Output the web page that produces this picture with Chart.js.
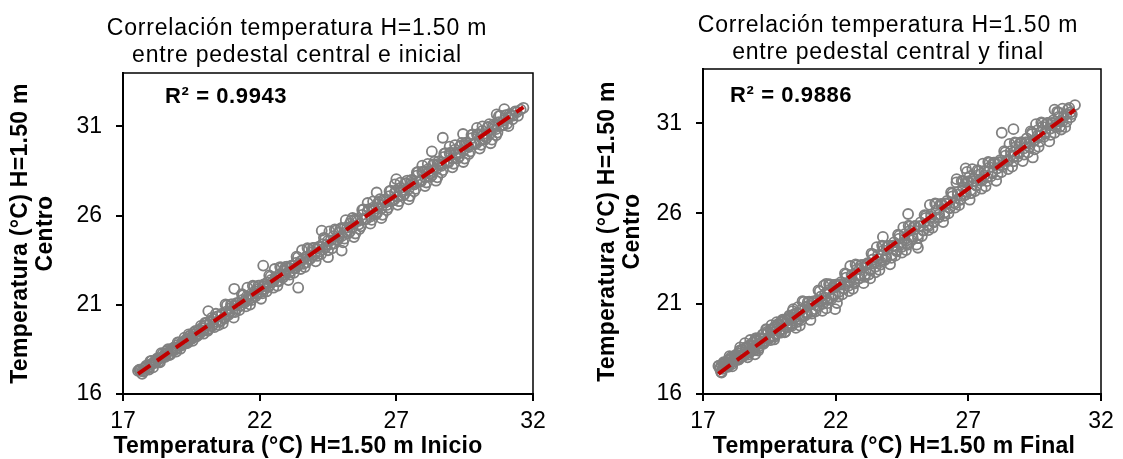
<!DOCTYPE html>
<html lang="es">
<head>
<meta charset="utf-8">
<title>Correlación temperatura H=1.50 m</title>
<script src="https://cdn.jsdelivr.net/npm/chart.js@4.4.1/dist/chart.umd.min.js"></script>
<style>
  html, body { margin: 0; padding: 0; background: #fff; }
  #contenedor { position: relative; width: 1123px; height: 459px; }
  canvas { position: absolute; top: 0; }
  #graficaInicio { left: 0; }
  #graficaFinal { left: 560px; }
</style>
</head>
<body>
<div id="contenedor">
  <canvas id="graficaInicio" width="560" height="459"></canvas>
  <canvas id="graficaFinal" width="563" height="459"></canvas>
</div>
<script>
// Temperaturas (°C) a H=1.50 m: pedestal inicial (x) contra pedestal central (y)
const inicioX = [
  17.55, 17.62, 17.70, 17.78, 17.85, 17.92, 18.00, 18.08, 18.15, 18.22, 18.30, 18.38, 18.45, 18.52, 18.60, 18.66, 18.74, 18.80, 18.88, 18.95,
  19.02, 19.10, 19.16, 19.24, 19.30, 19.38, 19.45, 19.52, 19.58, 19.66, 19.72, 19.80, 19.88, 19.95, 20.02, 20.10, 20.18, 20.25, 20.32, 20.40,
  20.48, 20.55, 20.62, 20.70, 20.78, 20.85, 20.92, 21.00, 21.08, 21.15, 21.22, 21.30, 21.38, 21.45, 21.52, 21.60, 21.68, 21.75, 21.82, 21.90,
  21.98, 22.05, 22.12, 22.20, 22.28, 22.35, 22.42, 22.50, 22.58, 22.65, 22.72, 22.80, 22.88, 22.95, 23.02, 23.10, 23.18, 23.25, 23.32, 23.40,
  23.50, 23.60, 23.70, 23.80, 23.90, 24.00, 24.10, 24.20, 24.30, 24.40, 24.50, 24.60, 24.70, 24.80, 24.90, 25.00, 25.10, 25.20, 25.30, 25.40,
  25.50, 25.62, 25.75, 25.85, 25.95, 26.05, 26.15, 26.25, 26.35, 26.45, 26.55, 26.65, 26.75, 26.85, 26.95, 27.05, 27.15, 27.25, 27.35, 27.45,
  27.55, 27.65, 27.75, 27.85, 27.95, 28.05, 28.15, 28.25, 28.35, 28.45, 28.55, 28.65, 28.75, 28.85, 28.95, 29.05, 29.15, 29.25, 29.35, 29.45,
  29.55, 29.65, 29.75, 29.85, 29.95, 30.05, 30.15, 30.25, 30.35, 30.45, 30.55, 30.65, 30.75, 30.85, 30.95, 31.10, 31.25, 31.40, 31.55, 31.65,
  22.13, 21.07, 23.41, 28.70, 28.30, 26.28, 20.12, 25.00, 24.27, 27.00, 29.44, 30.67, 24.50,
  17.6, 17.7, 17.8, 17.9, 18.0, 18.1, 18.2, 18.3, 18.4, 18.5, 18.6, 18.7, 18.8, 18.9, 19.0, 19.1, 19.2, 19.3, 19.4, 19.5,
  19.6, 19.7, 19.8, 19.9, 20.0, 20.1, 20.2, 20.3, 20.4, 20.5, 20.6, 20.7, 20.8, 20.9, 21.0, 21.1, 21.2, 21.3, 21.4, 21.5,
  21.6, 21.7, 21.8, 21.9, 22.0, 22.1, 22.2, 22.3, 22.4, 22.5, 22.6, 22.7, 22.8, 22.9, 23.0, 23.1, 23.2, 23.3, 23.4, 23.5,
  23.6, 23.7, 23.8, 23.9, 24.0, 24.1, 24.2, 24.3, 24.4, 24.5, 24.6, 24.7, 24.8, 24.9, 25.0, 25.1, 25.2, 25.3, 25.4, 25.5,
  25.6, 25.7, 25.8, 25.9, 26.0, 26.1, 26.2, 26.3, 26.4, 26.5, 26.6, 26.7, 26.8, 26.9, 27.0, 27.1, 27.2, 27.3, 27.4, 27.5,
  27.6, 27.7, 27.8, 27.9, 28.0, 28.1, 28.2, 28.3, 28.4, 28.5, 28.6, 28.7, 28.8, 28.9, 29.0, 29.1, 29.2, 29.3, 29.4, 29.5,
  29.6, 29.7, 29.8, 29.9, 30.0, 30.1, 30.2, 30.3, 30.4, 30.5, 30.6, 30.7, 30.8, 30.9, 31.0, 31.1, 31.2,
  17.65, 17.75, 17.85, 17.95, 18.05, 18.15, 18.25, 18.35, 18.45, 18.55, 18.65, 18.75, 18.85, 18.95, 19.05,
  19.15, 19.25, 19.35, 19.45, 19.55, 19.65, 19.75, 19.85, 19.95, 20.05, 20.15, 20.25, 20.35, 20.45, 20.55,
  20.65, 20.75, 20.85, 20.95, 21.05, 21.15, 21.25, 21.35, 21.45, 21.55, 21.65, 21.75, 21.85, 21.95, 22.05, 22.15, 22.25, 22.35, 22.45, 22.55,
  22.65, 22.75, 22.85, 22.95, 23.05, 23.15, 23.25, 23.35, 23.45, 23.55, 23.65, 23.75, 23.85, 23.95, 24.05, 24.15, 24.25, 24.35, 24.45, 24.55,
  24.65, 24.75, 24.85, 24.95, 25.05, 25.15, 25.25, 25.35, 25.45, 25.55, 25.65, 25.75, 25.85, 25.95, 26.05, 26.15, 26.25, 26.35, 26.45, 26.55,
  26.65, 26.75, 26.85, 26.95, 27.05, 27.15, 27.25, 27.35, 27.45, 27.55, 27.65, 27.75, 27.85, 27.95, 28.05, 28.15, 28.25, 28.35, 28.45, 28.55,
  28.65, 28.75, 28.85, 28.95, 29.05, 29.15, 29.25, 29.35, 29.45, 29.55, 29.65, 29.75, 29.85, 29.95, 30.05, 30.15, 30.25, 30.35, 30.45, 30.55,
  30.65, 30.75, 30.85, 30.95, 31.05, 31.15, 31.25, 31.35, 31.45
];
const inicioY = [
  17.30, 17.35, 17.28, 17.45, 17.52, 17.48, 17.66, 17.70, 17.82, 17.80, 17.98, 18.02, 18.05, 18.22, 18.30, 18.20, 18.45, 18.42, 18.60, 18.55,
  18.75, 18.70, 18.90, 18.82, 19.05, 18.95, 19.25, 19.10, 19.35, 19.22, 19.50, 19.38, 19.70, 19.55, 19.85, 19.62, 20.00, 19.80, 20.20, 20.05,
  20.35, 20.12, 20.50, 20.30, 20.62, 20.48, 20.80, 20.60, 20.95, 20.78, 21.10, 20.95, 21.28, 21.12, 21.45, 21.30, 21.60, 21.42, 21.75, 21.62,
  21.90, 21.72, 22.05, 21.90, 22.25, 22.05, 22.40, 22.30, 22.55, 22.35, 22.70, 22.62, 22.90, 22.70, 23.05, 22.85, 23.20, 23.05, 23.35, 23.20,
  23.45, 23.30, 23.70, 23.55, 23.95, 23.80, 24.15, 24.00, 24.40, 24.20, 24.60, 24.40, 24.85, 24.65, 25.05, 24.85, 25.30, 25.10, 25.55, 25.35,
  25.80, 25.50, 26.05, 25.80, 26.25, 25.95, 26.45, 26.15, 26.65, 26.40, 26.90, 26.60, 27.10, 26.85, 27.30, 27.05, 27.55, 27.35, 27.80, 27.50,
  28.00, 27.75, 28.25, 27.95, 28.45, 28.15, 28.60, 28.35, 28.85, 28.60, 29.05, 28.80, 29.30, 29.00, 29.50, 29.20, 29.70, 29.45, 29.90, 29.65,
  30.10, 29.85, 30.35, 30.05, 30.55, 30.20, 30.75, 30.45, 30.95, 30.65, 31.10, 30.85, 31.25, 31.05, 31.35, 31.50, 31.60, 31.80, 31.95, 32.05,
  23.20, 21.90, 21.96, 30.37, 29.60, 27.30, 20.65, 24.04, 25.16, 28.05, 30.58, 31.68, 23.67,
  17.36, 17.13, 17.48, 17.43, 17.84, 17.49, 17.87, 17.79, 18.29, 18.09, 18.41, 18.18, 18.53, 18.48, 18.89, 18.54, 18.92, 18.84, 19.34, 19.14,
  19.46, 19.23, 19.58, 19.53, 19.98, 19.54, 20.04, 19.90, 20.50, 19.86, 20.41, 20.22, 20.97, 20.58, 21.03, 20.59, 21.09, 20.95, 21.55, 20.91,
  21.46, 21.27, 22.02, 21.63, 22.08, 21.64, 22.14, 22.00, 22.60, 21.96, 22.51, 22.32, 23.08, 22.68, 23.14, 22.69, 23.20, 23.05, 23.66, 23.01,
  23.57, 23.37, 24.13, 23.73, 24.19, 23.74, 24.25, 24.10, 24.71, 24.06, 24.62, 24.42, 25.18, 24.78, 25.32, 24.71, 25.33, 25.11, 25.87, 25.00,
  25.69, 25.40, 26.35, 25.81, 26.37, 25.76, 26.38, 26.16, 26.92, 26.05, 26.74, 26.45, 27.40, 26.86, 27.42, 26.81, 27.43, 27.21, 27.97, 27.10,
  27.80, 27.50, 28.46, 27.91, 28.48, 27.86, 28.49, 28.26, 29.03, 28.15, 28.85, 28.55, 29.51, 28.96, 29.53, 28.91, 29.54, 29.31, 30.08, 29.20,
  29.90, 29.60, 30.56, 30.01, 30.58, 29.97, 30.59, 30.37, 31.13, 30.26, 30.95, 30.66, 31.61, 31.07, 31.63, 31.02, 31.64,
  17.31, 17.26, 17.59, 17.37, 17.86, 17.73, 17.99, 17.77, 18.25, 18.08, 18.51, 18.24, 18.60, 18.38, 18.89,
  18.74, 19.16, 18.85, 19.27, 18.98, 19.54, 19.32, 19.82, 19.38, 19.98, 19.67, 20.27, 19.75, 20.35, 20.06,
  19.96, 21.02, 20.42, 21.03, 20.28, 21.09, 20.70, 21.60, 21.21, 21.96, 21.02, 22.07, 21.48, 22.08, 21.34, 22.14, 21.75, 22.65, 22.26, 23.01,
  22.07, 23.12, 22.53, 23.13, 22.39, 23.19, 22.80, 23.70, 23.31, 24.06, 23.12, 24.18, 23.58, 24.19, 23.44, 24.25, 23.85, 24.76, 24.36, 25.12,
  24.17, 25.23, 24.63, 25.24, 24.50, 25.75, 25.01, 25.72, 24.80, 25.75, 25.25, 26.32, 25.82, 26.71, 25.55, 26.80, 26.06, 26.77, 25.86, 26.80,
  26.31, 27.37, 26.88, 27.76, 26.61, 27.85, 27.12, 27.82, 26.91, 27.85, 27.36, 28.42, 27.93, 28.81, 27.66, 28.90, 28.17, 28.87, 27.96, 28.90,
  28.41, 29.48, 28.98, 29.87, 28.71, 29.96, 29.22, 29.93, 29.01, 29.96, 29.46, 30.53, 30.03, 30.92, 29.76, 31.01, 30.27, 30.98, 30.06, 31.01,
  30.51, 31.58, 31.08, 31.97, 31.15, 31.70, 31.40, 31.85, 31.60
];

// Pedestal final (x) contra pedestal central (y)
const finalX = [
  17.58, 17.64, 17.70, 17.76, 17.82, 17.88, 17.95, 18.02, 18.08, 18.15, 18.22, 18.28, 18.35, 18.42, 18.48, 18.55, 18.62, 18.68, 18.75, 18.82,
  18.88, 18.95, 19.02, 19.08, 19.15, 19.22, 19.28, 19.35, 19.42, 19.48, 19.55, 19.62, 19.68, 19.75, 19.82, 19.88, 19.95, 20.02, 20.10, 20.18,
  20.25, 20.32, 20.40, 20.48, 20.55, 20.62, 20.70, 20.78, 20.85, 20.92, 21.00, 21.08, 21.15, 21.22, 21.30, 21.38, 21.45, 21.52, 21.60, 21.68,
  21.75, 21.82, 21.90, 21.98, 22.05, 22.12, 22.20, 22.30, 22.40, 22.50, 22.60, 22.70, 22.80, 22.90, 23.00, 23.10, 23.20, 23.30, 23.40, 23.50,
  23.60, 23.70, 23.80, 23.90, 24.00, 24.10, 24.20, 24.30, 24.40, 24.50, 24.60, 24.70, 24.80, 24.90, 25.00, 25.10, 25.20, 25.30, 25.40, 25.50,
  25.60, 25.70, 25.80, 25.90, 26.00, 26.10, 26.20, 26.30, 26.40, 26.50, 26.60, 26.70, 26.80, 26.90, 27.00, 27.10, 27.20, 27.30, 27.40, 27.50,
  27.60, 27.70, 27.80, 27.90, 28.00, 28.10, 28.20, 28.30, 28.40, 28.50, 28.60, 28.70, 28.80, 28.90, 29.00, 29.10, 29.20, 29.30, 29.40, 29.50,
  29.60, 29.70, 29.80, 29.90, 30.00, 30.10, 30.20, 30.30, 30.40, 30.55, 30.70, 30.85, 31.02,
  28.26, 28.70, 29.43, 24.73, 25.10, 21.64, 21.98, 23.30, 23.78, 18.96, 26.56, 26.90, 26.95, 27.15, 27.05, 30.25, 30.45,
  17.6, 17.7, 17.8, 17.9, 18.0, 18.1, 18.2, 18.3, 18.4, 18.5, 18.6, 18.7, 18.8, 18.9, 19.0, 19.1, 19.2, 19.3, 19.4, 19.5,
  19.6, 19.7, 19.8, 19.9, 20.0, 20.1, 20.2, 20.3, 20.4, 20.5, 20.6, 20.7, 20.8, 20.9, 21.0, 21.1, 21.2, 21.3, 21.4, 21.5,
  21.6, 21.7, 21.8, 21.9, 22.0, 22.1, 22.2, 22.3, 22.4, 22.5, 22.6, 22.7, 22.8, 22.9, 23.0, 23.1, 23.2, 23.3, 23.4, 23.5,
  23.6, 23.7, 23.8, 23.9, 24.0, 24.1, 24.2, 24.3, 24.4, 24.5, 24.6, 24.7, 24.8, 24.9, 25.0, 25.1, 25.2, 25.3, 25.4, 25.5,
  25.6, 25.7, 25.8, 25.9, 26.0, 26.1, 26.2, 26.3, 26.4, 26.5, 26.6, 26.7, 26.8, 26.9, 27.0, 27.1, 27.2, 27.3, 27.4, 27.5,
  27.6, 27.7, 27.8, 27.9, 28.0, 28.1, 28.2, 28.3, 28.4, 28.5, 28.6, 28.7, 28.8, 28.9, 29.0, 29.1, 29.2, 29.3, 29.4, 29.5,
  29.6, 29.7, 29.8, 29.9, 30.0, 30.1, 30.2, 30.3, 30.4, 30.5, 30.6, 30.7, 30.8, 30.9,
  17.65, 17.75, 17.85, 17.95, 18.05, 18.15, 18.25, 18.35, 18.45, 18.55, 18.65, 18.75, 18.85, 18.95, 19.05,
  19.15, 19.25, 19.35, 19.45, 19.55, 19.65, 19.75, 19.85, 19.95, 20.05, 20.15, 20.25, 20.35, 20.45, 20.55,
  20.65, 20.75, 20.85, 20.95, 21.05, 21.15, 21.25, 21.35, 21.45, 21.55, 21.65, 21.75, 21.85, 21.95, 22.05, 22.15, 22.25, 22.35, 22.45, 22.55,
  22.65, 22.75, 22.85, 22.95, 23.05, 23.15, 23.25, 23.35, 23.45, 23.55, 23.65, 23.75, 23.85, 23.95, 24.05, 24.15, 24.25, 24.35, 24.45, 24.55,
  24.65, 24.75, 24.85, 24.95, 25.05, 25.15, 25.25, 25.35, 25.45, 25.55, 25.65, 25.75, 25.85, 25.95, 26.05, 26.15, 26.25, 26.35, 26.45, 26.55,
  26.65, 26.75, 26.85, 26.95, 27.05, 27.15, 27.25, 27.35, 27.45, 27.55, 27.65, 27.75, 27.85, 27.95, 28.05, 28.15, 28.25, 28.35, 28.45, 28.55,
  28.65, 28.75, 28.85, 28.95, 29.05, 29.15, 29.25, 29.35, 29.45, 29.55, 29.65, 29.75, 29.85, 29.95, 30.05, 30.15, 30.25, 30.35, 30.45, 30.55,
  30.65, 30.75, 30.85,
  17.68, 17.78, 17.88, 17.98, 18.08, 18.18, 18.28, 18.38, 18.48, 18.58, 18.68, 18.78, 18.88, 18.98, 19.08,
  19.18, 19.28, 19.38, 19.48, 19.58, 19.68, 19.78, 19.88, 19.98, 20.08, 20.18, 20.28, 20.38, 20.48, 20.58
];
const finalY = [
  17.55, 17.40, 17.62, 17.50, 17.72, 17.58, 17.85, 17.70, 17.98, 17.80, 18.10, 17.92, 18.25, 18.05, 18.40, 18.15, 18.55, 18.30, 18.70, 18.42,
  18.85, 18.55, 19.00, 18.62, 19.10, 18.80, 19.30, 18.95, 19.45, 19.05, 19.55, 19.20, 19.70, 19.30, 19.85, 19.45, 20.00, 19.60, 20.10, 19.75,
  20.25, 19.90, 20.40, 20.05, 20.50, 20.15, 20.65, 20.30, 20.80, 20.45, 20.90, 20.55, 21.05, 20.70, 21.20, 20.90, 21.40, 21.00, 21.55, 21.20,
  21.75, 21.35, 21.90, 21.50, 22.05, 21.65, 22.20, 21.85, 22.45, 22.00, 22.60, 22.20, 22.90, 22.40, 23.00, 22.60, 23.25, 22.85, 23.45, 23.05,
  23.70, 23.30, 23.95, 23.50, 24.20, 23.70, 24.40, 23.90, 24.60, 24.15, 24.85, 24.35, 25.05, 24.60, 25.30, 24.80, 25.50, 25.05, 25.75, 25.30,
  25.95, 25.55, 26.20, 25.80, 26.45, 26.05, 26.70, 26.30, 26.95, 26.55, 27.20, 26.80, 27.45, 27.05, 27.75, 27.30, 27.95, 27.55, 28.15, 27.80,
  28.35, 28.00, 28.55, 28.25, 28.75, 28.50, 28.95, 28.70, 29.20, 28.90, 29.45, 29.15, 29.70, 29.40, 29.95, 29.60, 30.15, 29.85, 30.40, 30.05,
  30.60, 30.30, 30.80, 30.50, 31.00, 30.70, 31.15, 30.90, 31.35, 31.10, 31.50, 31.60, 32.00,
  30.47, 30.67, 29.10, 25.97, 24.10, 22.10, 20.70, 22.40, 24.70, 18.20, 27.90, 28.50, 28.30, 28.45, 28.05, 31.75, 30.80,
  17.56, 17.18, 17.65, 17.53, 18.10, 17.53, 18.05, 17.89, 18.58, 18.14, 18.56, 18.18, 18.65, 18.53, 19.10, 18.53, 19.04, 18.88, 19.57, 19.13,
  19.55, 19.17, 19.64, 19.52, 20.12, 19.46, 20.13, 19.89, 20.70, 19.66, 20.40, 20.09, 21.11, 20.51, 21.11, 20.45, 21.12, 20.88, 21.69, 20.60,
  21.34, 21.03, 22.05, 21.46, 22.06, 21.40, 22.07, 21.83, 22.64, 21.70, 22.44, 22.12, 23.14, 22.55, 23.15, 22.49, 23.16, 22.92, 23.73, 22.74,
  23.48, 23.17, 24.19, 23.60, 24.20, 23.54, 24.20, 23.96, 24.77, 23.83, 24.57, 24.26, 25.28, 24.69, 25.29, 24.63, 25.30, 25.06, 25.87, 25.08,
  25.82, 25.51, 26.53, 25.93, 26.53, 25.87, 26.54, 26.30, 27.11, 26.32, 27.06, 26.75, 27.77, 27.18, 27.78, 27.12, 27.79, 27.55, 28.36, 27.37,
  28.10, 27.79, 28.81, 28.22, 28.82, 28.16, 28.83, 28.59, 29.40, 28.46, 29.20, 28.89, 29.91, 29.32, 29.92, 29.26, 29.93, 29.68, 30.49, 29.55,
  30.29, 29.98, 31.00, 30.41, 31.01, 30.35, 31.02, 30.78, 31.59, 30.65, 31.39, 31.08, 31.85, 31.50,
  17.45, 17.39, 17.77, 17.51, 18.04, 17.90, 18.18, 17.91, 18.45, 18.13, 18.61, 18.30, 18.71, 18.42, 19.01,
  18.82, 19.30, 18.91, 19.39, 18.98, 19.59, 19.32, 19.89, 19.40, 20.04, 19.68, 20.34, 19.77, 20.41, 19.99,
  19.79, 21.14, 20.34, 21.10, 20.10, 21.13, 20.58, 21.74, 21.19, 22.00, 20.74, 22.09, 21.28, 22.04, 21.04, 22.07, 21.52, 22.68, 22.13, 23.09,
  21.83, 23.18, 22.38, 23.14, 22.14, 23.17, 22.62, 23.78, 23.22, 24.13, 22.87, 24.22, 23.42, 24.18, 23.18, 24.21, 23.66, 24.82, 24.27, 25.23,
  23.97, 25.32, 24.52, 25.28, 24.27, 25.30, 24.75, 25.91, 25.36, 26.47, 25.21, 26.56, 25.76, 26.52, 25.52, 26.55, 26.00, 27.16, 26.61, 27.72,
  26.46, 27.80, 27.00, 27.76, 26.76, 27.79, 27.24, 28.40, 27.85, 28.76, 27.50, 28.85, 28.05, 28.81, 27.81, 28.84, 28.29, 29.45, 28.90, 29.85,
  28.59, 29.94, 29.14, 29.90, 28.90, 29.93, 29.38, 30.54, 29.99, 30.95, 29.69, 31.04, 30.24, 30.99, 29.99, 31.02, 30.47, 31.63, 31.08, 31.80,
  30.78, 31.75, 31.33,
  17.23, 17.76, 17.57, 17.91, 17.65, 18.03, 17.94, 18.40, 18.18, 18.82, 18.03, 18.99, 18.50, 19.05, 18.41,
  19.07, 18.78, 19.59, 19.15, 19.81, 19.02, 19.98, 19.49, 20.05, 19.41, 20.07, 19.78, 20.59, 20.25, 20.81
];

const xTicks = [17, 22, 27, 32];
const yTicks = [16, 21, 26, 31];

const tituloInicio = ["Correlación temperatura H=1.50 m", "entre pedestal central e inicial"];
const tituloFinal = ["Correlación temperatura H=1.50 m", "entre pedestal central y final"];
const ejeYTexto = ["Temperatura (°C) H=1.50 m", "Centro"];
const ejeXInicio = "Temperatura (°C) H=1.50 m Inicio";
const ejeXFinal = "Temperatura (°C) H=1.50 m Final";
const r2Inicio = "R² = 0.9943";
const r2Final = "R² = 0.9886";

const FUENTE = "'Liberation Sans', Arial, sans-serif";

// Recta de mínimos cuadrados entre el menor y el mayor x
function tendencia(xs, ys) {
  const n = xs.length;
  let sx = 0, sy = 0, sxx = 0, sxy = 0;
  for (let i = 0; i < n; i++) {
    sx += xs[i]; sy += ys[i];
    sxx += xs[i] * xs[i]; sxy += xs[i] * ys[i];
  }
  const m = (n * sxy - sx * sy) / (n * sxx - sx * sx);
  const b = (sy - m * sx) / n;
  const x0 = Math.min(...xs);
  const x1 = Math.max(...xs);
  return [{ x: x0, y: m * x0 + b }, { x: x1, y: m * x1 + b }];
}

// Títulos de dos líneas con espaciado entre letras
const tituloEspaciado = {
  id: "tituloEspaciado",
  afterDraw(chart, args, o) {
    const ctx = chart.ctx;
    ctx.save();
    ctx.font = `23px ${FUENTE}`;
    ctx.letterSpacing = "0.8px";
    ctx.fillStyle = "#000";
    ctx.textAlign = "center";
    ctx.textBaseline = "alphabetic";
    o.lineas.forEach((t, i) => ctx.fillText(t, o.x, o.base + i * o.paso));
    ctx.restore();
  },
};

// Marco superior y derecho del área de trazado
const marco = {
  id: "marco",
  beforeDatasetsDraw(chart) {
    const { ctx, chartArea: a } = chart;
    ctx.save();
    ctx.strokeStyle = "#000";
    ctx.lineWidth = 1.5;
    ctx.beginPath();
    ctx.moveTo(a.left, a.top);
    ctx.lineTo(a.right, a.top);
    ctx.lineTo(a.right, a.bottom);
    ctx.stroke();
    ctx.restore();
  },
};

// Texto del coeficiente R²
const etiquetaR2 = {
  id: "etiquetaR2",
  afterDraw(chart, args, o) {
    const { ctx, chartArea: a } = chart;
    ctx.save();
    ctx.font = `bold 22px ${FUENTE}`;
    ctx.letterSpacing = "0.6px";
    ctx.fillStyle = "#000";
    ctx.textAlign = "left";
    ctx.textBaseline = "middle";
    ctx.fillText(o.texto, a.left + o.dx, a.top + o.dy);
    ctx.restore();
  },
};

// Títulos de ejes con algo de espaciado; el del eje x se puede desplazar
const ejesEspaciados = {
  id: "ejesEspaciados",
  beforeDraw(chart, args, o) {
    Object.values(chart.scales).forEach((scale) => {
      if (scale._espaciado) return;
      const original = scale.drawTitle.bind(scale);
      const dx = scale.axis === "x" ? o.dx || 0 : 0;
      scale.drawTitle = function () {
        chart.ctx.save();
        chart.ctx.letterSpacing = "0.3px";
        chart.ctx.translate(dx, 0);
        original();
        chart.ctx.restore();
      };
      scale._espaciado = true;
    });
  },
};

function crearGrafica(id, xs, ys, c) {
  const puntos = xs.map((x, i) => ({ x: x, y: ys[i] }));
  const ctx = document.getElementById(id).getContext("2d");
  const fuenteEje = { family: FUENTE, size: 23, weight: "bold", lineHeight: 25 / 23 };
  return new Chart(ctx, {
    type: "scatter",
    data: {
      datasets: [
        {
          type: "line",
          data: tendencia(xs, ys),
          borderColor: "#C00000",
          borderWidth: 4,
          borderDash: [15, 8],
          pointRadius: 0,
          fill: false,
          order: 0,
        },
        {
          data: puntos,
          pointStyle: "circle",
          pointRadius: 5,
          pointBorderWidth: 1.8,
          pointBorderColor: "#808080",
          pointBackgroundColor: "rgba(0,0,0,0)",
          order: 1,
        },
      ],
    },
    options: {
      responsive: false,
      animation: false,
      events: [],
      layout: { padding: { left: c.izq, right: c.der, top: c.arriba, bottom: 0 } },
      plugins: {
        legend: { display: false },
        tooltip: { enabled: false },
        title: { display: false },
        tituloEspaciado: { lineas: c.titulo, x: c.tituloX, base: c.tituloBase, paso: 27 },
        etiquetaR2: { texto: c.r2, dx: c.r2dx, dy: c.r2dy },
        ejesEspaciados: { dx: c.ejeXdx },
      },
      scales: {
        x: {
          type: "linear",
          min: 17,
          max: 32,
          afterBuildTicks: (s) => { s.ticks = xTicks.map((v) => ({ value: v })); },
          afterFit: (s) => { s.height = 65; },
          grid: { drawOnChartArea: false, drawTicks: true, tickLength: 7, color: "#000", lineWidth: 2 },
          border: { display: true, color: "#000", width: 2 },
          ticks: { color: "#000", padding: 7, maxRotation: 0, font: { family: FUENTE, size: 23 } },
          title: { display: true, text: c.ejeX, color: "#000", padding: 0, font: fuenteEje },
        },
        y: {
          type: "linear",
          min: 16,
          max: 34,
          afterBuildTicks: (s) => { s.ticks = yTicks.map((v) => ({ value: v })); },
          afterFit: (s) => { s.width = c.anchoY; },
          grid: { drawOnChartArea: false, drawTicks: true, tickLength: 7, color: "#000", lineWidth: 2 },
          border: { display: true, color: "#000", width: 2 },
          ticks: { color: "#000", padding: 14, font: { family: FUENTE, size: 23 } },
          title: { display: true, text: ejeYTexto, color: "#000", padding: 0, font: fuenteEje },
        },
      },
    },
    plugins: [ejesEspaciados, marco, tituloEspaciado, etiquetaR2],
  });
}

crearGrafica("graficaInicio", inicioX, inicioY, {
  izq: 8, der: 27, arriba: 73, anchoY: 115,
  titulo: tituloInicio, tituloX: 297, tituloBase: 35,
  ejeX: ejeXInicio, ejeXdx: -30, r2: r2Inicio, r2dx: 42, r2dy: 24,
});

crearGrafica("graficaFinal", finalX, finalY, {
  izq: 35, der: 22, arriba: 69, anchoY: 108,
  titulo: tituloFinal, tituloX: 328, tituloBase: 32,
  ejeX: ejeXFinal, ejeXdx: -8, r2: r2Final, r2dx: 27, r2dy: 27,
});
</script>
</body>
</html>
